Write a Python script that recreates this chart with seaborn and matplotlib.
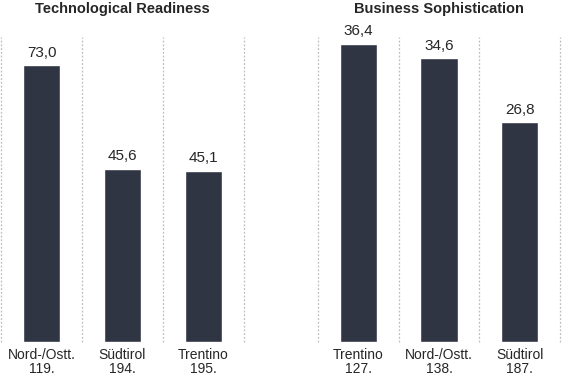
import matplotlib
matplotlib.use("Agg")
import matplotlib.pyplot as plt
import seaborn as sns

# Technological Readiness
tr_regions = ["Nord-/Ostt.", "Südtirol", "Trentino"]
tr_values = [73.0, 45.6, 45.1]
tr_ranks = [119, 194, 195]

# Business Sophistication
bs_regions = ["Trentino", "Nord-/Ostt.", "Südtirol"]
bs_values = [36.4, 34.6, 26.8]
bs_ranks = [127, 138, 187]

sns.set_style("white")
plt.rcParams["font.family"] = ["Liberation Sans", "DejaVu Sans"]

bar_color = "#2f3542"
grid_color = "#bdbdbd"

fig = plt.figure(figsize=(5.62, 3.77), dpi=100)
ax1 = fig.add_axes([1 / 562, 35 / 377, 243 / 562, 305 / 377])
ax2 = fig.add_axes([318 / 562, 35 / 377, 242 / 562, 305 / 377])

panels = [
  (ax1, "Technological Readiness", tr_regions, tr_values, tr_ranks, 80.4),
  (ax2, "Business Sophistication", bs_regions, bs_values, bs_ranks, 37.2),
]

for ax, title, regions, values, ranks, ytop in panels:
  sns.barplot(x=regions, y=values, color=bar_color, saturation=1,
              width=0.46, ax=ax)
  ax.set_xlim(-0.5, 2.5)
  ax.set_ylim(0, ytop)
  # gepunktete Trennlinien
  for xv in [-0.5, 0.5, 1.5, 2.5]:
    ax.axvline(xv, color=grid_color, linewidth=0.9,
               linestyle=(0, (1.5, 1.5)), clip_on=False, zorder=0)
  ax.bar_label(ax.containers[0],
               labels=[f"{v:.1f}".replace(".", ",") for v in values],
               padding=4, fontsize=11)
  ax.set_xticks(range(len(regions)))
  ax.set_xticklabels([f"{r}\n{k}." for r, k in zip(regions, ranks)],
                     fontsize=10, linespacing=1.05)
  ax.tick_params(axis="x", length=0, pad=4)
  ax.set_yticks([])
  for s in ax.spines.values():
    s.set_visible(False)
  ax.set_title(title, fontsize=10.5, fontweight="bold", pad=17)

plt.savefig("out.png", dpi=100)
